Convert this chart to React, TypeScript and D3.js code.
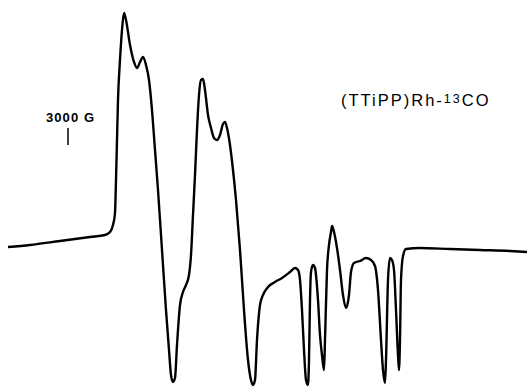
import React from 'react';
import * as d3 from 'd3';

// field position (arbitrary units, left -> right) and derivative signal (arbitrary units, baseline ~ 0)
const field = [8, 30, 60, 90, 105, 110, 113, 115, 116, 117, 118, 120, 122, 124, 126, 130, 134, 137, 140, 143, 146, 149, 152, 155, 158, 162, 166, 169, 171, 173, 175, 177, 180, 183, 186, 189, 191, 193, 195, 197, 199, 201, 203, 205, 208, 211, 214, 217, 220, 223, 225, 227, 230, 233, 236, 240, 244, 248, 251, 253, 255, 257, 260, 263, 268, 275, 282, 290, 295, 298, 300, 302, 304, 306, 308, 309, 310, 311, 313, 315, 318, 320, 322, 324, 325, 327, 329, 331, 332, 334, 337, 340, 343, 346, 349, 351, 354, 360, 366, 371, 375, 378, 381, 383, 385, 386, 388, 390, 392, 394, 396, 398, 399, 400, 401, 403, 406, 420, 450, 480, 510, 527];
const signal = [3, 5, 9, 13, 15, 18, 25, 37, 70, 110, 150, 190, 220, 237, 230, 205, 188, 182, 188, 193, 185, 170, 140, 100, 60, 0, -60, -100, -125, -132, -128, -95, -55, -42, -35, -25, -5, 35, 75, 120, 155, 170, 171, 160, 135, 122, 112, 110, 115, 126, 128, 122, 105, 80, 50, 0, -60, -110, -130, -135, -130, -90, -55, -45, -37, -32, -28, -22, -18, -20, -30, -60, -100, -130, -135, -110, -50, -22, -15, -18, -50, -85, -105, -120, -90, -20, 5, 18, 24, 18, 2, -20, -45, -58, -45, -22, -13, -11, -8, -10, -16, -40, -90, -120, -133, -110, -30, -8, -10, -20, -60, -105, -120, -90, -30, -6, 1, 2, 1, 0, -1, -2];

const scaleLabel = '3000 G';
const compound = ['(TTiPP)Rh-', '13', 'CO'];

const W = 527;
const H = 387;

export default function App() {
  const x = d3.scaleLinear().domain([0, 527]).range([0, W]);
  const y = d3.scaleLinear().domain([-135, 237]).range([385, 13]);

  const pts = field.map((f, i) => [f, signal[i]] as [number, number]);
  const line = d3.line<[number, number]>()
    .x(d => x(d[0]))
    .y(d => y(d[1]))
    .curve(d3.curveMonotoneX);

  return (
    <svg width={W} height={H} style={{ position: 'absolute', left: 0, top: 0, background: '#fff' }}>
      <path d={line(pts) || ''} fill="none" stroke="#000" strokeWidth={2.4} strokeLinejoin="round" />
      {/* scale marker */}
      <text x={46} y={122} fontFamily="Liberation Sans, Arial, sans-serif" fontSize={13} fontWeight="bold"
        textLength={48} lengthAdjust="spacing">{scaleLabel}</text>
      <line x1={68} x2={68} y1={128} y2={145} stroke="#000" strokeWidth={1.5} />
      <text x={341} y={106} fontFamily="Liberation Sans, Arial, sans-serif" fontSize={16.5} letterSpacing={2}>
        {compound[0]}
        <tspan dy={-3.5} fontSize={12.5}>{compound[1]}</tspan>
        <tspan dy={3.5}>{compound[2]}</tspan>
      </text>
    </svg>
  );
}
